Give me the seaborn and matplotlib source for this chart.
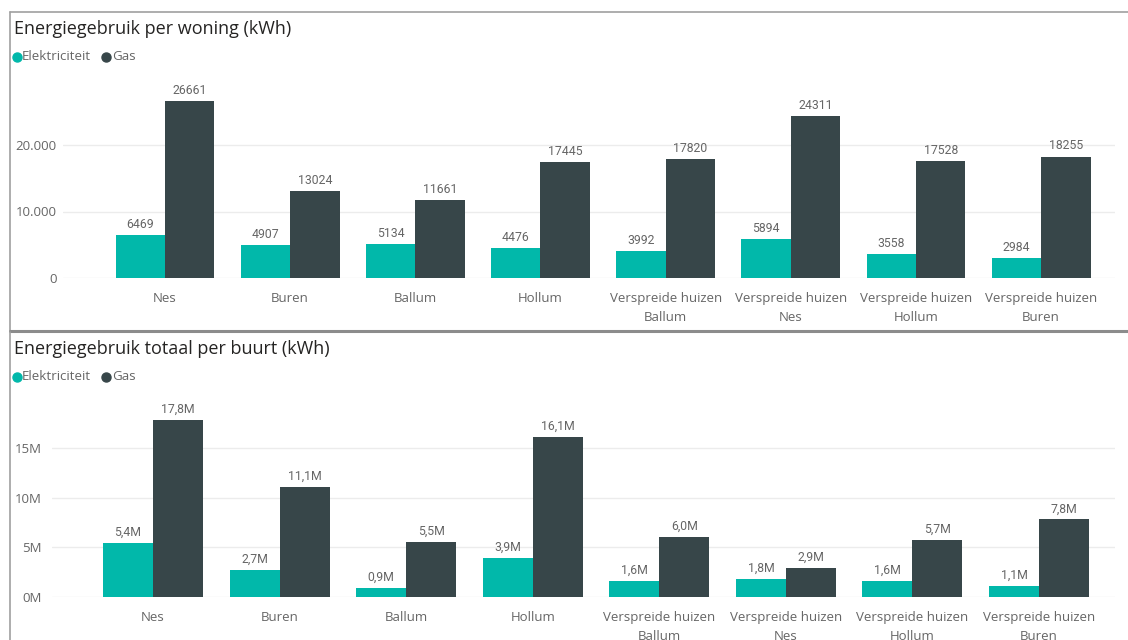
import matplotlib
matplotlib.use("Agg")
import matplotlib.pyplot as plt
from matplotlib.lines import Line2D
import seaborn as sns
import pandas as pd

categories = ["Nes", "Buren", "Ballum", "Hollum",
              "Verspreide huizen\nBallum", "Verspreide huizen\nNes",
              "Verspreide huizen\nHollum", "Verspreide huizen\nBuren"]
series = ["Elektriciteit", "Gas"]

woning_elec = [6469, 4907, 5134, 4476, 3992, 5894, 3558, 2984]
woning_gas = [26661, 13024, 11661, 17445, 17820, 24311, 17528, 18255]

buurt_elec = [5.4e6, 2.7e6, 0.9e6, 3.9e6, 1.6e6, 1.8e6, 1.6e6, 1.1e6]
buurt_gas = [17.8e6, 11.1e6, 5.5e6, 16.1e6, 6.0e6, 2.9e6, 5.7e6, 7.8e6]

top_ticks = [0, 10000, 20000]
top_ticklabels = ["0", "10.000", "20.000"]
bot_ticks = [0, 5e6, 10e6, 15e6]
bot_ticklabels = ["0M", "5M", "10M", "15M"]

colors = {"Elektriciteit": "#01B8AA", "Gas": "#374649"}

sns.set_theme(style="white")
plt.rcParams["font.family"] = ["Open Sans", "DejaVu Sans"]

W, H = 1128, 640
fig = plt.figure(figsize=(W / 100, H / 100), dpi=100)
fig.patch.set_facecolor("white")


def px_axes(left, right, top, bottom):
    return fig.add_axes([left / W, 1 - bottom / H, (right - left) / W, (bottom - top) / H])


def make_df(e, g):
    return pd.DataFrame({
        "cat": categories * 2,
        "type": ["Elektriciteit"] * len(categories) + ["Gas"] * len(categories),
        "val": list(e) + list(g),
    })


def fmt_int(v):
    return f"{int(round(v))}"


def fmt_m(v):
    return f"{v / 1e6:.1f}M".replace(".", ",")


def draw(ax, e, g, ylim, ticks, ticklabels, xlim, fmt, ypad):
    df = make_df(e, g)
    sns.barplot(data=df, x="cat", y="val", hue="type", order=categories,
                hue_order=series, palette=colors, width=0.79, gap=0,
                saturation=1, ax=ax, legend=False, errorbar=None, linewidth=0)
    for cont, vals in zip(ax.containers, [e, g]):
        ax.bar_label(cont, labels=[fmt(v) for v in vals], padding=3,
                     fontsize=8.8, color="#666666", family=["Roboto", "DejaVu Sans"])
    ax.set_ylim(*ylim)
    ax.set_xlim(*xlim)
    ax.set_yticks(ticks)
    ax.set_yticklabels(ticklabels)
    ax.set_xlabel("")
    ax.set_ylabel("")
    ax.grid(axis="y", color="#ececec", lw=1)
    ax.set_axisbelow(True)
    for s in ax.spines.values():
        s.set_visible(False)
    ax.tick_params(axis="x", length=0, pad=10, labelsize=9.5, labelcolor="#666666")
    ax.tick_params(axis="y", length=0, pad=ypad, labelsize=9.5, labelcolor="#666666")
    for t in ax.get_xticklabels():
        t.set_linespacing(1.6)


ax1 = px_axes(63, 1115, 78.5, 278)
draw(ax1, woning_elec, woning_gas, (0, 30000), top_ticks, top_ticklabels,
     (-0.815, 7.59), fmt_int, 4.5)

ax2 = px_axes(52, 1115, 398.2, 597)
draw(ax2, buurt_elec, buurt_gas, (0, 20e6), bot_ticks, bot_ticklabels,
     (-0.798, 7.6), fmt_m, 7.5)

# titles
fig.text(14 / W, 1 - 29 / H, "Energiegebruik per woning (kWh)", fontsize=13,
         color="#252423", va="center", ha="left")
fig.text(14 / W, 1 - 349 / H, "Energiegebruik totaal per buurt (kWh)", fontsize=13,
         color="#252423", va="center", ha="left")

# legends
legend_pos = {"Elektriciteit": (17, 22), "Gas": (106, 112)}
for ytop in (57, 377):
    for name in series:
        dx, tx = legend_pos[name]
        fig.add_artist(Line2D([dx / W], [1 - ytop / H], marker="o", markersize=6.5,
                              color=colors[name], linestyle="none",
                              transform=fig.transFigure))
        fig.text(tx / W, 1 - ytop / H, name, fontsize=9.6, color="#666666",
                 va="center", ha="left")

# panel borders
border = "#a0a0a0"
fig.add_artist(Line2D([10 / W, 1], [1 - 12 / H, 1 - 12 / H], color=border, lw=1.2,
                      transform=fig.transFigure))
fig.add_artist(Line2D([10 / W, 10 / W], [1 - 12 / H, 1 - 331 / H], color=border, lw=1.2,
                      transform=fig.transFigure))
fig.add_artist(Line2D([10 / W, 1], [1 - 330.5 / H, 1 - 330.5 / H], color="#8c8c8c", lw=2.2,
                      transform=fig.transFigure))
fig.add_artist(Line2D([10 / W, 10 / W], [1 - 332 / H, 0], color=border, lw=1.2,
                      transform=fig.transFigure))

fig.savefig("out.png", dpi=100)
